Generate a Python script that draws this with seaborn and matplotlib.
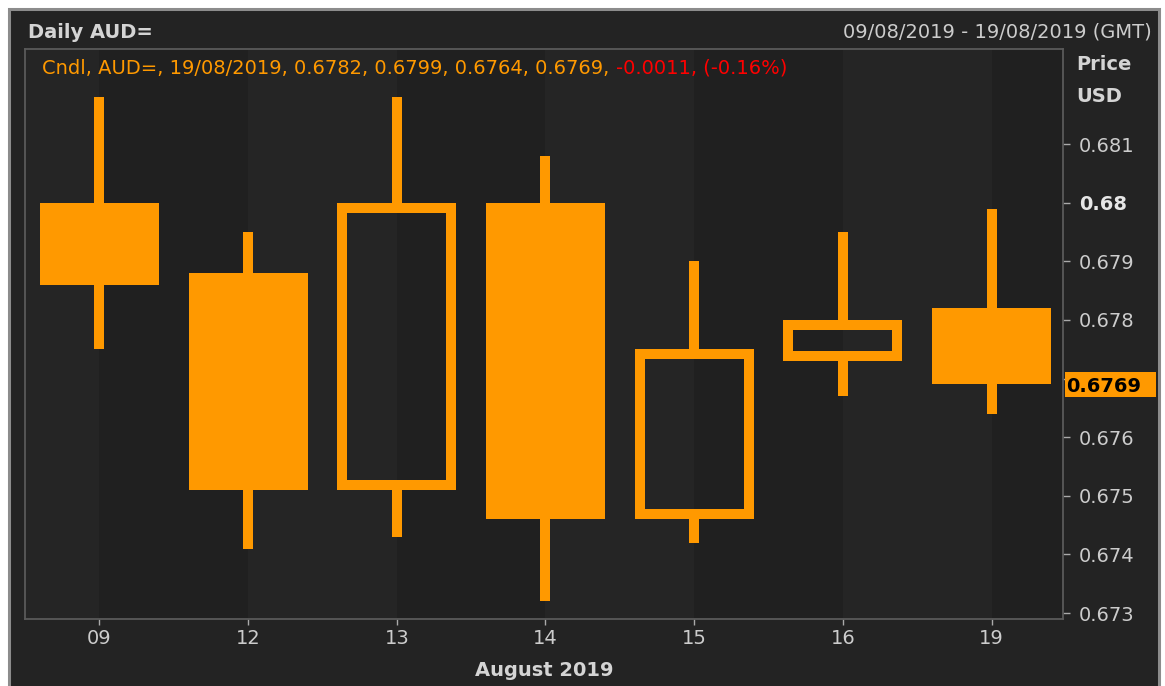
import numpy as np
import pandas as pd
import matplotlib
matplotlib.use("Agg")
import matplotlib.pyplot as plt
import matplotlib.transforms as mtransforms
from matplotlib.patches import Rectangle
import seaborn as sns

# daily AUD= candles, 09/08/2019 - 19/08/2019
days = ["09", "12", "13", "14", "15", "16", "19"]
opens = [0.6800, 0.6788, 0.6751, 0.6800, 0.6746, 0.6773, 0.6782]
highs = [0.6818, 0.6795, 0.6818, 0.6808, 0.6790, 0.6795, 0.6799]
lows = [0.6775, 0.6741, 0.6743, 0.6732, 0.6742, 0.6767, 0.6764]
closes = [0.6786, 0.6751, 0.6800, 0.6746, 0.6775, 0.6780, 0.6769]
price_ticks = [0.673, 0.674, 0.675, 0.676, 0.677, 0.678, 0.679, 0.680, 0.681]
last_date = "19/08/2019"

ORANGE = "#ff9900"
RED = "#ff0000"
PANEL = "#232323"
BAND_LIGHT = "#252525"
BAND_DARK = "#202020"
TXT = "#cccccc"

df = pd.DataFrame({"day": days, "open": opens, "high": highs, "low": lows, "close": closes})
df["x"] = np.arange(len(df))
df["top"] = df[["open", "close"]].max(axis=1)
df["bot"] = df[["open", "close"]].min(axis=1)
df["down"] = df["close"] < df["open"]

sns.set_theme(style="dark", rc={"figure.facecolor": "white", "axes.facecolor": PANEL})
plt.rcParams["font.family"] = ["DejaVu Sans"]

W, H = 1165, 686
fig = plt.figure(figsize=(W / 100, H / 100), dpi=100)


def fx(px):
    return px / W


def fy(py):
    return 1 - py / H


# outer dark panel with grey frame
fig.patches.append(Rectangle((fx(8.5), -0.02), fx(1158.5) - fx(8.5), fy(8.5) + 0.02,
                             transform=fig.transFigure, fc=PANEL, ec="#8c8c8c", lw=2.2, zorder=-5))

ax = fig.add_axes([fx(25), fy(619), fx(1063) - fx(25), fy(49) - fy(619)])
xlim = (-0.5, 6.48)
ylim = (0.672898, 0.682621)
ax.set_xlim(*xlim)
ax.set_ylim(*ylim)

# alternating day bands
edges = [xlim[0]] + list(df["x"]) + [xlim[1]]
for i in range(len(edges) - 1):
    ax.axvspan(edges[i], edges[i + 1], color=BAND_LIGHT if i % 2 == 0 else BAND_DARK, lw=0, zorder=0)

ppx = (fx(1063) - fx(25)) * W / (xlim[1] - xlim[0])
ppy = (fy(49) - fy(619)) * H / (ylim[1] - ylim[0])
wick_w = 10 / ppx
body_w = 0.8

# wicks
ax.bar(df["x"], df["high"] - df["top"], bottom=df["top"], width=wick_w, color=ORANGE, lw=0, zorder=2)
ax.bar(df["x"], df["bot"] - df["low"], bottom=df["low"], width=wick_w, color=ORANGE, lw=0, zorder=2)

# filled (down) bodies
dn = df[df["down"]]
ax.bar(dn["x"], dn["top"] - dn["bot"], bottom=dn["bot"], width=body_w, color=ORANGE, lw=0, zorder=3)

# hollow (up) bodies, outline kept inside the body
up = df[~df["down"]]
hx, hy = 5 / ppx, 5 / ppy
ax.bar(up["x"], up["top"] - up["bot"] - 2 * hy, bottom=up["bot"] + hy, width=body_w - 2 * hx,
       fill=False, edgecolor=ORANGE, linewidth=7.2, joinstyle="miter", zorder=3)

for s in ax.spines.values():
    s.set_color("#5a5a5a")
    s.set_linewidth(1.3)

ax.set_xticks(df["x"])
ax.set_xticklabels(days)
ax.tick_params(axis="x", bottom=True, direction="out", length=4, width=1, color="#aaaaaa",
               labelcolor=TXT, labelsize=14, pad=3)

last = df.iloc[-1]

ax.yaxis.tick_right()
ax.set_yticks(price_ticks)
# the tick label under the last-price marker is covered, as in the original
ax.set_yticklabels(["" if abs(v - last["close"]) < 0.0004 else f"{v:g}" for v in price_ticks])
ax.tick_params(axis="y", right=True, left=False, labelright=True, labelleft=False, direction="out",
               length=5, width=1, color="#aaaaaa", labelcolor=TXT, labelsize=14, pad=6.5)
for lab, v in zip(ax.get_yticklabels(), price_ticks):
    if abs(v - 0.68) < 1e-9:
        lab.set_fontweight("bold")
        lab.set_color("#e6e6e6")

# last price marker on the axis
trans = mtransforms.blended_transform_factory(ax.transAxes, ax.transData)
x0 = (1065 - 25) / 1038
x1 = (1156 - 25) / 1038
bh = 12.5 / ppy
ax.add_patch(Rectangle((x0, last["close"] - bh), x1 - x0, 2 * bh, transform=trans,
                       fc=ORANGE, ec="none", clip_on=False, zorder=5))
ax.text(x0 + 1 / 1038, last["close"], f"{last['close']:.4f}", transform=trans, color="black",
        weight="bold", size=14, va="center_baseline", ha="left", clip_on=False, zorder=6)

# header texts
fig.text(fx(28), fy(38), "Daily AUD=", weight="bold", size=14, color="#d4d4d4", va="baseline")
fig.text(fx(1152), fy(38), f"{days[0]}/08/2019 - {last_date} (GMT)", size=14, color=TXT,
         va="baseline", ha="right")
fig.text(fx(1076), fy(70), "Price", weight="bold", size=14, color="#d4d4d4", va="baseline")
fig.text(fx(1076), fy(102), "USD", weight="bold", size=14, color="#d4d4d4", va="baseline")
fig.text((fx(25) + fx(1063)) / 2, fy(676), "August 2019", weight="bold", size=14, color="#d4d4d4",
         va="baseline", ha="center")

# legend line
chg = closes[-1] - closes[-2]
pct = chg / closes[-2] * 100
t1 = fig.text(fx(42), fy(74),
              f"Cndl, AUD=, {last_date}, {last['open']:.4f}, {last['high']:.4f}, "
              f"{last['low']:.4f}, {last['close']:.4f}, ",
              color=ORANGE, size=14, va="baseline")
red = fig.text(0, 0, f"{chg:.4f}, ({pct:.2f}%)", color=RED, size=14, va="bottom", ha="left",
               transform=mtransforms.IdentityTransform())
fig.canvas.draw()
bb = t1.get_window_extent()
red.set_position((bb.x1, bb.y0))

fig.savefig("out.png", dpi=100)
